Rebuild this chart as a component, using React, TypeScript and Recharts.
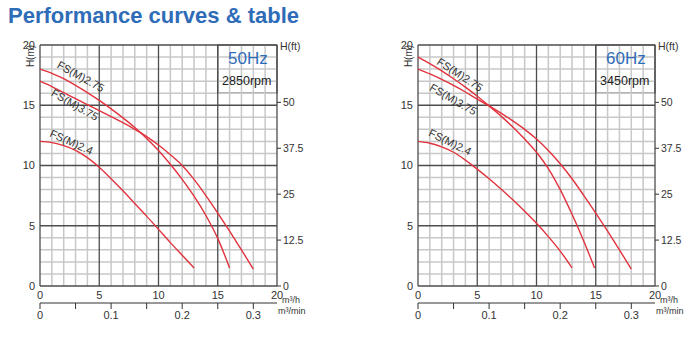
import { LineChart, Line, XAxis, YAxis, ReferenceLine, ReferenceArea, ReferenceDot } from "recharts";

const FONT = '"Liberation Sans", Arial, sans-serif';
const M_TO_FT = 3.28084;

// axis ticks
const flowTicks = [0, 5, 10, 15, 20];
const headTicks = [0, 5, 10, 15, 20];
const feetTicks = [0, 12.5, 25, 37.5, 50];
const minTicks = [0, 0.05, 0.1, 0.15, 0.2, 0.25, 0.3];
const minLabels = [0, 0.1, 0.2, 0.3];
const gridValues = [0, 1, 2, 3, 4, 5, 6, 7, 8, 9, 10, 11, 12, 13, 14, 15, 16, 17, 18, 19, 20];

const models = ["FS(M)2.75", "FS(M)3.75", "FS(M)2.4"];

// 50Hz, 2850rpm
const flow50A = [0, 1, 2, 3, 4, 5, 6, 7, 8, 9, 10, 11, 12, 13, 14, 15, 16];
const head50A = [18, 17.65, 17.2, 16.65, 16.05, 15.4, 14.7, 13.95, 13.15, 12.25, 11.25, 10.1, 8.85, 7.45, 5.85, 3.95, 1.5];
const flow50B = [0, 1, 2, 3, 4, 5, 6, 7, 8, 9, 10, 11, 12, 13, 14, 15, 16, 17, 18];
const head50B = [17, 16.55, 16.05, 15.55, 15.05, 14.55, 14.05, 13.55, 13.0, 12.4, 11.7, 10.9, 10.0, 8.85, 7.5, 6.05, 4.55, 3.0, 1.4];
const flow50C = [0, 1, 2, 3, 4, 5, 6, 7, 8, 9, 10, 11, 12, 13];
const head50C = [12, 11.9, 11.65, 11.25, 10.65, 9.85, 8.9, 7.9, 6.85, 5.8, 4.7, 3.6, 2.55, 1.5];

// 60Hz, 3450rpm
const flow60A = [0, 1, 2, 3, 4, 5, 6, 7, 8, 9, 10, 11, 12, 13, 14, 14.9];
const head60A = [19, 18.45, 17.85, 17.2, 16.5, 15.75, 14.95, 14.1, 13.2, 12.2, 11.1, 9.75, 8.0, 5.95, 3.7, 1.5];
const flow60B = [0, 1, 2, 3, 4, 5, 6, 7, 8, 9, 10, 11, 12, 13, 14, 15, 16, 17, 18];
const head60B = [18, 17.6, 17.15, 16.65, 16.1, 15.5, 14.95, 14.35, 13.7, 13.0, 12.2, 11.25, 10.15, 8.9, 7.5, 6.05, 4.55, 3.0, 1.4];
const flow60C = [0, 1, 2, 3, 4, 5, 6, 7, 8, 9, 10, 11, 12, 13];
const head60C = [12, 11.85, 11.55, 11.1, 10.45, 9.7, 8.9, 8.05, 7.15, 6.2, 5.2, 4.1, 2.9, 1.5];

const pts = (q: number[], h: number[]) => q.map((x, i) => ({ q: x, h: h[i] }));

// label anchors in data units (flow, head) and rotation
const labels50 = [
  { q: 3.45, h: 17.4, a: 29 },
  { q: 2.95, h: 15.05, a: 30 },
  { q: 2.66, h: 11.95, a: 24 },
];
const labels60 = [
  { q: 3.55, h: 17.55, a: 33 },
  { q: 2.98, h: 15.5, a: 30 },
  { q: 2.72, h: 11.95, a: 26 },
];

const RED = "#e2323d";
const BLUE = "#2f6cb8";

type LabelPos = { q: number; h: number; a: number };

function PumpChart({ left, hz, rpm, series, labels }: { left: number; hz: string; rpm: string; series: { q: number; h: number }[][]; labels: LabelPos[] }) {
  const tick = { fontSize: 11, fill: "#333", fontFamily: FONT };
  // same curve in m3/min and ft, only to drive the secondary axes
  const alt = series[1].map((p) => ({ q: p.q / 60, h: p.h * M_TO_FT }));
  return (
    <div style={{ position: "absolute", left, top: 0 }}>
      <LineChart width={320} height={355} margin={{ top: 45, right: 13, bottom: 22, left: 0 }} style={{ fontFamily: FONT }}>
        <XAxis dataKey="q" type="number" domain={[0, 20]} ticks={flowTicks} interval={0} height={17} tickSize={0} tickMargin={5} axisLine={false} tickLine={false} tick={tick} />
        <XAxis
          xAxisId="min"
          dataKey="q"
          type="number"
          domain={[0, 20 / 60]}
          allowDataOverflow
          ticks={minTicks}
          interval={0}
          height={30}
          tickSize={6}
          tickMargin={2}
          axisLine={{ stroke: "#333" }}
          tickLine={{ stroke: "#333" }}
          tick={tick}
          tickFormatter={(v: number) => (minLabels.includes(v) ? String(v) : "")}
        />
        <YAxis type="number" domain={[0, 20]} ticks={headTicks} interval={0} width={40} tickSize={0} tickMargin={5} axisLine={false} tickLine={false} tick={tick} />
        <YAxis
          yAxisId="ft"
          orientation="right"
          type="number"
          domain={[0, 20 * M_TO_FT]}
          allowDataOverflow
          ticks={feetTicks}
          interval={0}
          width={30}
          tickSize={4}
          tickMargin={2}
          axisLine={false}
          tickLine={{ stroke: "#333" }}
          tick={{ ...tick, fontSize: 10.5 }}
        />
        {gridValues.filter((v) => v % 5 !== 0).map((v) => (
          <ReferenceLine key={"mx" + v} x={v} stroke="#c8c8c8" strokeWidth={1.5} />
        ))}
        {gridValues.filter((v) => v % 5 !== 0).map((v) => (
          <ReferenceLine key={"my" + v} y={v} stroke="#c8c8c8" strokeWidth={1.5} />
        ))}
        {gridValues.filter((v) => v % 5 === 0).map((v) => (
          <ReferenceLine key={"Mx" + v} x={v} stroke="#4d4d4d" strokeWidth={1.3} />
        ))}
        {gridValues.filter((v) => v % 5 === 0).map((v) => (
          <ReferenceLine key={"My" + v} y={v} stroke="#4d4d4d" strokeWidth={1.3} />
        ))}
        <ReferenceArea x1={15} x2={20} y1={16} y2={20} fill="#fff" fillOpacity={1} stroke="#444" strokeWidth={1.2} />
        <ReferenceDot
          x={17.55}
          y={18.4}
          r={0}
          shape={(p: any) => (
            <text x={p.cx} y={p.cy} textAnchor="middle" fontSize={17} fill={BLUE} fontFamily={FONT}>
              {hz}
            </text>
          )}
        />
        <ReferenceDot
          x={17.45}
          y={16.72}
          r={0}
          shape={(p: any) => (
            <text x={p.cx} y={p.cy} textAnchor="middle" fontSize={12.5} fill="#222" fontFamily={FONT}>
              {rpm}
            </text>
          )}
        />
        <Line xAxisId="min" yAxisId="ft" data={alt} dataKey="h" stroke="none" dot={false} legendType="none" isAnimationActive={false} />
        {series.map((d, i) => (
          <Line key={models[i]} data={d} dataKey="h" type="monotone" stroke={RED} strokeWidth={1.4} dot={false} isAnimationActive={false} />
        ))}
        {labels.map((l, i) => (
          <ReferenceDot
            key={"l" + i}
            x={l.q}
            y={l.h}
            r={0}
            shape={(p: any) => (
              <text
                x={p.cx}
                y={p.cy}
                transform={`rotate(${l.a} ${p.cx} ${p.cy})`}
                textAnchor="middle"
                dominantBaseline="central"
                fontSize={11}
                fill="#333"
                fontFamily={FONT}
              >
                {models[i]}
              </text>
            )}
          />
        ))}
      </LineChart>
    </div>
  );
}

export default function App() {
  const s50 = [pts(flow50A, head50A), pts(flow50B, head50B), pts(flow50C, head50C)];
  const s60 = [pts(flow60A, head60A), pts(flow60B, head60B), pts(flow60C, head60C)];
  const side = (x: number) => (
    <g fontFamily={FONT} fill="#333">
      <text x={x - 10} y={56} fontSize={10} textAnchor="middle" dominantBaseline="central" transform={`rotate(-90 ${x - 10} 56)`}>
        H(m)
      </text>
      <text x={x + 240} y={50} fontSize={10.5}>
        H(ft)
      </text>
      <text x={x + 242} y={303} fontSize={9}>
        m³/h
      </text>
      <text x={x + 238} y={314} fontSize={9}>
        m³/min
      </text>
    </g>
  );
  return (
    <div style={{ position: "fixed", left: 0, top: 0, width: 696, height: 355, background: "#fff", overflow: "hidden" }}>
      <PumpChart left={0} hz="50Hz" rpm="2850rpm" series={s50} labels={labels50} />
      <PumpChart left={378} hz="60Hz" rpm="3450rpm" series={s60} labels={labels60} />
      <svg width={696} height={355} style={{ position: "absolute", left: 0, top: 0, pointerEvents: "none" }}>
        <text x={8} y={23} fontSize={22} fontWeight="bold" fill={BLUE} fontFamily={FONT}>
          Performance curves &amp; table
        </text>
        {side(40)}
        {side(418)}
      </svg>
    </div>
  );
}
